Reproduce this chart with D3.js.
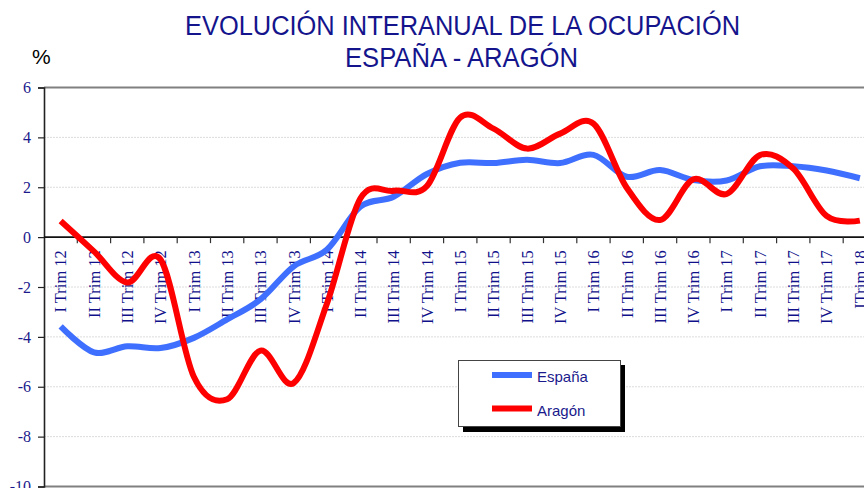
<!DOCTYPE html>
<html>
<head>
<meta charset="utf-8">
<script src="https://cdn.jsdelivr.net/npm/d3@7/dist/d3.min.js"></script>
<style>
  html, body { margin: 0; padding: 0; background: #fff; }
  svg { display: block; }
</style>
</head>
<body>
<svg id="chart" width="864" height="488"></svg>
<script>
const categories = [
  "I Trim 12","II Trim 12","III Trim 12","IV Trim 12",
  "I Trim 13","II Trim 13","III Trim 13","IV Trim 13",
  "I Trim 14","II Trim 14","III Trim 14","IV Trim 14",
  "I Trim 15","II Trim 15","III Trim 15","IV Trim 15",
  "I Trim 16","II Trim 16","III Trim 16","IV Trim 16",
  "I Trim 17","II Trim 17","III Trim 17","IV Trim 17",
  "ITrim 18"
];
const espana = [-3.58,-4.62,-4.38,-4.45,-4.04,-3.3,-2.5,-1.17,-0.5,1.22,1.62,2.53,2.98,2.97,3.1,2.97,3.3,2.42,2.69,2.29,2.27,2.84,2.84,2.67,2.36];
const aragon = [0.65,-0.57,-1.82,-0.9,-5.6,-6.5,-4.55,-5.85,-2.65,1.55,1.86,2.05,4.8,4.35,3.55,4.15,4.55,1.98,0.69,2.32,1.73,3.29,2.75,0.85,0.66];
const yTicks = [-10,-8,-6,-4,-2,0,2,4,6];
const seriesNames = ["España","Aragón"];
const seriesColors = ["#3f6fff","#ff0000"];

const svg = d3.select("#chart");
const left = 44, bandW = 33.3;
const x = d3.scaleBand().domain(categories).range([left, left + bandW * categories.length]).padding(0);
const y = d3.scaleLinear().domain([-10, 6]).range([486.5, 87.5]);
const xRight = left + bandW * categories.length;

// gridlines
svg.append("g").selectAll("line").data(yTicks.filter(d => d !== 0 && d !== 6 && d !== -10)).join("line")
  .attr("x1", left).attr("x2", xRight)
  .attr("y1", d => y(d)).attr("y2", d => y(d))
  .attr("stroke", "#dcdcdc").attr("stroke-width", 1).attr("stroke-dasharray", "2,1");

// top and bottom borders
svg.append("line").attr("x1", left).attr("x2", xRight).attr("y1", y(6)).attr("y2", y(6))
  .attr("stroke", "#808080").attr("stroke-width", 2.2);
svg.append("line").attr("x1", left).attr("x2", xRight).attr("y1", y(-10)).attr("y2", y(-10))
  .attr("stroke", "#808080").attr("stroke-width", 2.2);

// y axis
const yAxis = d3.axisLeft(y).tickValues(yTicks).tickSize(6).tickPadding(7).tickFormat(d3.format("d"));
const gy = svg.append("g").attr("transform", `translate(${left},0)`).call(yAxis);
gy.select(".domain").attr("stroke", "#222").attr("stroke-width", 1.6);
gy.selectAll(".tick line").attr("stroke", "#222").attr("stroke-width", 1.2);
gy.selectAll(".tick text").attr("font-family", "'Liberation Serif', 'Times New Roman', serif")
  .attr("font-size", 16).attr("fill", "#1a1a8c").text(d => d < 0 ? "-" + Math.abs(d) : d);

// x axis at zero
const x0 = y(0);
svg.append("line").attr("x1", left).attr("x2", xRight).attr("y1", x0).attr("y2", x0)
  .attr("stroke", "#111").attr("stroke-width", 1.6);
svg.append("g").selectAll("line").data(categories.slice(1)).join("line")
  .attr("x1", d => x(d)).attr("x2", d => x(d))
  .attr("y1", x0).attr("y2", x0 + 6)
  .attr("stroke", "#333").attr("stroke-width", 1.2);
svg.append("g").selectAll("text").data(categories).join("text")
  .attr("transform", d => `translate(${x(d) + bandW / 2},${x0 + 13}) rotate(-90)`)
  .attr("text-anchor", "end").attr("dy", "0.35em")
  .attr("font-family", "'Liberation Serif', 'Times New Roman', serif")
  .attr("font-size", 16.5).attr("fill", "#10108a")
  .text(d => d);

// lines
const line = d3.line()
  .x((d, i) => x(categories[i]) + bandW / 2)
  .y(d => y(d))
  .curve(d3.curveCardinal.tension(0));
[espana, aragon].forEach((s, k) => {
  svg.append("path").datum(s).attr("d", line)
    .attr("fill", "none").attr("stroke", seriesColors[k]).attr("stroke-width", 6)
    .attr("stroke-linejoin", "round");
});

// legend
const lg = svg.append("g");
lg.append("rect").attr("x", 463).attr("y", 365).attr("width", 162).attr("height", 67).attr("fill", "#000");
lg.append("rect").attr("x", 458.5).attr("y", 360.5).attr("width", 162).attr("height", 66)
  .attr("fill", "#fff").attr("stroke", "#444").attr("stroke-width", 1);
seriesNames.forEach((n, k) => {
  const ly = 375 + k * 33.5;
  lg.append("line").attr("x1", 492).attr("x2", 532).attr("y1", ly).attr("y2", ly)
    .attr("stroke", seriesColors[k]).attr("stroke-width", 6);
  lg.append("text").attr("x", 537).attr("y", ly + 7)
    .attr("font-family", "'Liberation Sans', Arial, sans-serif").attr("font-size", 15)
    .attr("fill", "#1a1a8c").text(n);
});

// titles
svg.append("text").attr("x", 185).attr("y", 35).attr("textLength", 555).attr("lengthAdjust", "spacingAndGlyphs")
  .attr("font-family", "'Liberation Sans', Arial, sans-serif").attr("font-size", 27).attr("fill", "#14148c")
  .text("EVOLUCIÓN INTERANUAL DE LA OCUPACIÓN");
svg.append("text").attr("x", 345).attr("y", 67).attr("textLength", 233).attr("lengthAdjust", "spacingAndGlyphs")
  .attr("font-family", "'Liberation Sans', Arial, sans-serif").attr("font-size", 27).attr("fill", "#14148c")
  .text("ESPAÑA - ARAGÓN");
svg.append("text").attr("x", 32).attr("y", 64)
  .attr("font-family", "'Liberation Sans', Arial, sans-serif").attr("font-size", 21).attr("fill", "#000")
  .text("%");
</script>
</body>
</html>
